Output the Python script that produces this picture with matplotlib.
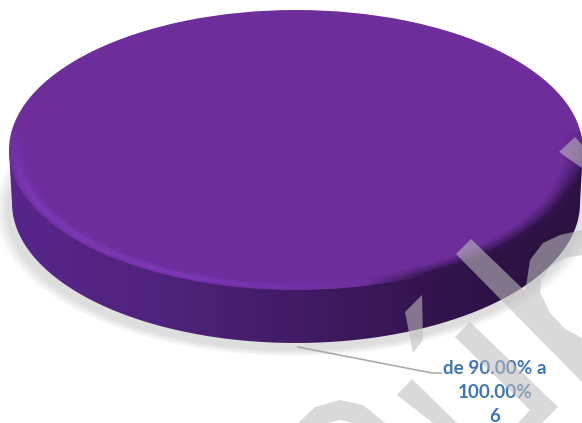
import numpy as np
import matplotlib
matplotlib.use('Agg')
import matplotlib.pyplot as plt
from matplotlib.colors import LinearSegmentedColormap
from matplotlib.patches import Polygon, PathPatch
from matplotlib.path import Path
from matplotlib.transforms import Affine2D

categorias = ['de 90.00% a\n100.00%']
valores = [6]

ANCHO, ALTO = 582, 423
CX, CY = 296, 150
RX, RY = 287, 140
PROF = 53

COLOR_TOPE = '#6d2e9c'
COLOR_TEXTO = '#3f75b5'
LADO = [(0.0, '#58268c'), (0.25, '#50247d'), (0.5, '#421c66'),
        (0.72, '#34154f'), (0.85, '#2e1245'), (1.0, '#2b1240')]

# marca de agua, en pixeles de la imagen
MARCA = [
    [(559, 152), (575, 137), (582, 145), (582, 168)],
    [(456, 254), (471, 239), (525, 291), (527, 280), (530, 260), (543, 243), (560, 235),
     (582, 230), (582, 255), (565, 258), (550, 267), (541, 280), (540, 292), (550, 313),
     (565, 329), (582, 338), (582, 382)],
    [(455, 337), (470, 322), (558, 407), (542, 423), (518, 423), (530, 410)],
    [(405, 312), (422, 295), (423, 340), (413, 353)],
    [(397, 395), (412, 379), (457, 423), (433, 423)],
    [(298, 423), (315, 407), (340, 400), (363, 405), (385, 423), (353, 423),
     (340, 420), (328, 423)],
]

fig = plt.figure(figsize=(ANCHO / 100, ALTO / 100), dpi=100, facecolor='white')
ax = fig.add_axes([0, 0, 1, 1])

yy, xx = np.mgrid[0:ALTO, 0:ANCHO] + 0.5
extent = (0, ANCHO, ALTO, 0)

# sombra difusa debajo del disco
r_sombra = np.hypot((xx - (CX - 2)) / (RX - 1), (yy - (CY + PROF + 7)) / RY)
alfa_sombra = np.clip((1.05 - r_sombra) / 0.05, 0, 1) * 0.13
sombra = np.zeros((ALTO, ANCHO, 4))
sombra[..., 3] = alfa_sombra
ax.imshow(sombra, extent=extent, zorder=1, aspect='auto')

# lateral con degradado horizontal
mapa_lado = LinearSegmentedColormap.from_list('lado', LADO)
t = np.linspace(0, np.pi, 200)
borde = np.column_stack([CX + (RX - 3) * np.cos(t), CY + PROF + RY * np.sin(t)])
borde = np.vstack([borde, [[CX - RX, CY], [CX + RX, CY]]])
img_lado = ax.imshow(np.linspace(0, 1, ANCHO)[None, :], cmap=mapa_lado, extent=extent,
                     zorder=2, aspect='auto', interpolation='bilinear')
img_lado.set_clip_path(PathPatch(Path(borde, closed=False), transform=ax.transData))

# cara superior
wedges, _ = ax.pie(valores, colors=[COLOR_TOPE], radius=1, center=(0, 0))
forma = Affine2D().scale(RX, RY).translate(CX, CY) + ax.transData
for w in wedges:
    w.set_transform(forma)
    w.set_zorder(3)

# bisel: claro abajo a la izquierda, oscuro a la derecha
r = np.hypot((xx - CX) / RX, (yy - CY) / RY)
peso = np.clip((yy - CY + 25) / (RY * 0.45), 0, 1)
mezcla = np.clip((xx - 360) / 70, 0, 1)
mezcla_claro = np.clip((xx - 190) / 200, 0, 1)
claro = np.exp(-((r - 0.975) / 0.022) ** 2) * 0.55 * peso * (1 - mezcla_claro)
oscuro = np.clip((r - 0.925) / 0.07, 0, 1) ** 1.3 * peso * mezcla
bisel = np.zeros((ALTO, ANCHO, 4))
c_claro = np.array([0.53, 0.24, 0.79])
c_oscuro = np.array([0.18, 0.07, 0.27])
total = claro + oscuro + 1e-6
for i in range(3):
    bisel[..., i] = (claro * c_claro[i] + oscuro * c_oscuro[i]) / total
bisel[..., 3] = np.clip(total, 0, 1)
img_bisel = ax.imshow(bisel, extent=extent, zorder=4, aspect='auto')
img_bisel.set_clip_path(wedges[0])

# linea guia y etiqueta
ax.plot([298, 432, 441], [347, 373, 373], color='#a6a6a6', lw=1.1, zorder=5)
etiqueta = f'{categorias[0]}\n{valores[0]}'
ax.text(495, 392, etiqueta, ha='center', va='center', color=COLOR_TEXTO, fontsize=13.6,
        fontweight='bold', family='Lato', linespacing=1.5, zorder=6)

for puntos in MARCA:
    ax.add_patch(Polygon(puntos, closed=True, facecolor='#bebebe', edgecolor='none',
                         alpha=0.58, zorder=7))

ax.set_aspect('auto')
ax.set_xlim(0, ANCHO)
ax.set_ylim(ALTO, 0)
ax.axis('off')

fig.savefig('out.png', dpi=100)
plt.close(fig)
